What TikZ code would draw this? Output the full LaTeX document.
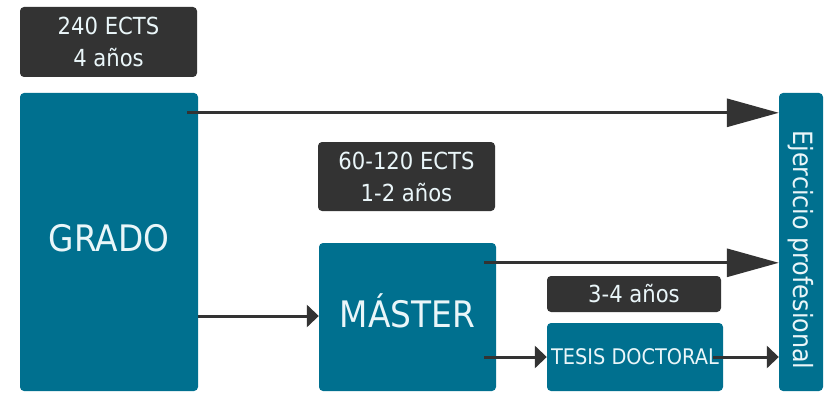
\documentclass[tikz,border=0pt]{standalone}
\usepackage{fontspec}
\setmainfont{DejaVu Sans Condensed}
\usetikzlibrary{arrows.meta}
\definecolor{teal1}{HTML}{00708F}
\definecolor{dark1}{HTML}{333333}
\definecolor{txtw}{HTML}{EAF6F9}
\tikzset{
  tealbox/.style={fill=teal1, rounded corners=4pt, inner sep=0pt, text=txtw, align=center},
  bigtext/.style={text=txtw, inner sep=0pt, font=\fontsize{36.5}{40}\selectfont},
  darkbox/.style={fill=dark1, rounded corners=4pt, inner sep=0pt, text=txtw, align=center, font=\fontsize{23.5}{32}\selectfont},
  bigarrow/.style={draw=dark1, line width=3pt, -{Triangle[length=52pt,width=28pt]}},
  smallarrow/.style={draw=dark1, line width=3pt, -{Triangle[length=12pt,width=22pt]}},
}
\begin{document}
\begin{tikzpicture}[x=1pt,y=-1pt]
\useasboundingbox (0,0) rectangle (826,393);
% dark label boxes
\node[darkbox, minimum width=177pt, minimum height=70pt] (ects1) at (108.5,42) {240 ECTS\\4 años};
\node[darkbox, minimum width=177pt, minimum height=69pt] (ects2) at (406.5,176.5) {60-120 ECTS\\1-2 años};
\node[darkbox, minimum width=174pt, minimum height=36pt] (ects3) at (634,294) {3-4 años};
% teal boxes
\node[tealbox, minimum width=178pt, minimum height=298pt, label={[bigtext, yshift=4pt]center:GRADO}] (grado) at (109,242) {};
\node[tealbox, minimum width=177pt, minimum height=148pt, label={[bigtext, yshift=6pt]center:MÁSTER}] (master) at (407.5,317) {};
\node[tealbox, minimum width=176pt, minimum height=68pt, font=\fontsize{21.5}{24}\selectfont] (tesis) at (635,357) {TESIS DOCTORAL};
\node[tealbox, minimum width=44pt, minimum height=298pt] (ejer) at (801,242) {};
\node[text=txtw, rotate=-90, font=\fontsize{26.5}{30}\selectfont, inner sep=0pt] (ejtxt) at ([yshift=-8pt]ejer.center) {Ejercicio profesional};
% connectors
\draw[bigarrow] ([xshift=-11pt,yshift=-20pt]grado.north east) -- ([yshift=-20pt]grado.north east -| ejer.west);
\draw[smallarrow] ([yshift=-74pt]grado.east) -- ([yshift=-74pt]grado.east -| master.west);
\draw[bigarrow] ([xshift=-12pt,yshift=-20pt]master.north east) -- ([yshift=-20pt]master.north east -| ejer.west);
\draw[smallarrow] ([xshift=-12pt]master.east |- tesis.west) -- (tesis.west);
\draw[smallarrow] ([xshift=-10pt]tesis.east) -- (tesis.east -| ejer.west);
\end{tikzpicture}
\end{document}
